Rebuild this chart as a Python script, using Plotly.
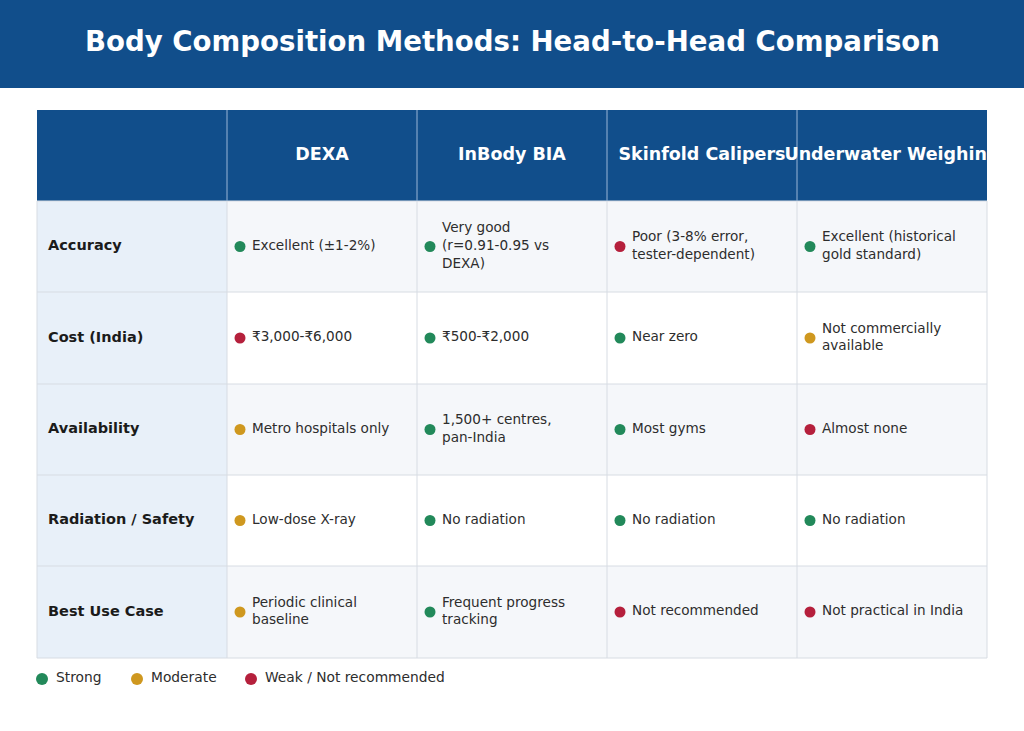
import plotly.graph_objects as go

# ---------------------------------------------------------------------------
# Datos de la tabla
# ---------------------------------------------------------------------------
title = "Body Composition Methods: Head-to-Head Comparison"
methods = ["DEXA", "InBody BIA", "Skinfold Calipers", "Underwater Weighing"]
criteria = ["Accuracy", "Cost (India)", "Availability", "Radiation / Safety", "Best Use Case"]

cell_text = [
    ["Excellent (±1-2%)", "Very good<br>(r=0.91-0.95 vs<br>DEXA)",
     "Poor (3-8% error,<br>tester-dependent)", "Excellent (historical<br>gold standard)"],
    ["₹3,000-₹6,000", "₹500-₹2,000", "Near zero", "Not commercially<br>available"],
    ["Metro hospitals only", "1,500+ centres,<br>pan-India", "Most gyms", "Almost none"],
    ["Low-dose X-ray", "No radiation", "No radiation", "No radiation"],
    ["Periodic clinical<br>baseline", "Frequent progress<br>tracking",
     "Not recommended", "Not practical in India"],
]
ratings = [
    ["strong", "strong", "weak", "strong"],
    ["weak", "strong", "strong", "moderate"],
    ["moderate", "strong", "strong", "weak"],
    ["moderate", "strong", "strong", "strong"],
    ["moderate", "strong", "weak", "weak"],
]
legend_keys = ["strong", "moderate", "weak"]
legend_labels = ["Strong", "Moderate", "Weak / Not recommended"]

# colores
NAVY = "#114e8b"
HEAD_LINE = "#9ab5d6"
LABEL_BG = "#e8f0f9"
ALT_BG = "#f5f7fa"
GRID = "#d7dce3"
TXT = "#2d2d2d"
LABEL_TXT = "#1b1b1b"
DOT = {"strong": "#22895a", "moderate": "#cf981f", "weak": "#b5203c"}
FONT = "DejaVu Sans"

W, H = 1024, 731
x_edges = [37, 227, 417, 607, 797, 987]
y_edges = [110, 201, 292, 384, 475, 566, 658]
X0, X1 = 36, 988  # zona de dibujo (recorta la cabecera como el original)

fig = go.Figure()
shapes = []

# banda del título (en coordenadas de papel)
shapes.append(dict(type="rect", xref="paper", yref="paper", x0=0, x1=1,
                   y0=1 - 88 / H, y1=1, fillcolor=NAVY, line_width=0, layer="below"))

# cabecera
shapes.append(dict(type="rect", x0=x_edges[0], x1=x_edges[-1], y0=y_edges[0], y1=y_edges[1],
                   fillcolor=NAVY, line_width=0, layer="below"))

# filas
for r in range(len(criteria)):
    y0, y1 = y_edges[r + 1], y_edges[r + 2]
    bg = ALT_BG if r % 2 == 0 else "white"
    shapes.append(dict(type="rect", x0=x_edges[1], x1=x_edges[-1], y0=y0, y1=y1,
                       fillcolor=bg, line_width=0, layer="below"))
    shapes.append(dict(type="rect", x0=x_edges[0], x1=x_edges[1], y0=y0, y1=y1,
                       fillcolor=LABEL_BG, line_width=0, layer="below"))

# líneas de la rejilla
for y in y_edges[1:]:
    shapes.append(dict(type="line", x0=x_edges[0], x1=x_edges[-1], y0=y, y1=y,
                       line=dict(color=GRID, width=1), layer="below"))
for x in x_edges:
    shapes.append(dict(type="line", x0=x, x1=x, y0=y_edges[1], y1=y_edges[-1],
                       line=dict(color=GRID, width=1), layer="below"))
for x in x_edges[1:-1]:
    shapes.append(dict(type="line", x0=x, x1=x, y0=y_edges[0], y1=y_edges[1],
                       line=dict(color=HEAD_LINE, width=1), layer="below"))

# textos de cabecera
head_y = (y_edges[0] + y_edges[1]) / 2
fig.add_trace(go.Scatter(
    x=[(x_edges[i + 1] + x_edges[i + 2]) / 2 for i in range(len(methods))],
    y=[head_y] * len(methods),
    text=[f"<b>{m}</b>" for m in methods],
    mode="text", textposition="middle center",
    textfont=dict(family=FONT, size=17.5, color="white"),
    cliponaxis=True, hoverinfo="skip",
))

# etiquetas de fila
row_mid = [(y_edges[r + 1] + y_edges[r + 2]) / 2 for r in range(len(criteria))]
fig.add_trace(go.Scatter(
    x=[x_edges[0] + 11] * len(criteria), y=row_mid,
    text=[f"<b>{c}</b>" for c in criteria],
    mode="text", textposition="middle right",
    textfont=dict(family=FONT, size=14.5, color=LABEL_TXT),
    hoverinfo="skip",
))

# celdas: puntos + texto
dot_x, dot_y, dot_c, tx, ty, tt = [], [], [], [], [], []
for r in range(len(criteria)):
    for c in range(len(methods)):
        left = x_edges[c + 1]
        dot_x.append(left + 13)
        dot_y.append(row_mid[r])
        dot_c.append(DOT[ratings[r][c]])
        tx.append(left + 25)
        ty.append(row_mid[r])
        tt.append(cell_text[r][c])

fig.add_trace(go.Scatter(x=dot_x, y=dot_y, mode="markers",
                         marker=dict(size=11, color=dot_c, line_width=0),
                         hoverinfo="skip"))
fig.add_trace(go.Scatter(x=tx, y=ty, text=tt, mode="text", textposition="middle right",
                         textfont=dict(family=FONT, size=13.6, color=TXT),
                         hoverinfo="skip"))

# leyenda
leg_x = [42, 137, 251]
leg_y = 679
fig.add_trace(go.Scatter(x=leg_x, y=[leg_y] * 3, mode="markers",
                         marker=dict(size=12, color=[DOT[k] for k in legend_keys], line_width=0),
                         hoverinfo="skip", cliponaxis=False))
fig.add_trace(go.Scatter(x=[x + 14 for x in leg_x], y=[leg_y] * 3, text=legend_labels,
                         mode="text", textposition="middle right",
                         textfont=dict(family=FONT, size=13.8, color=TXT),
                         hoverinfo="skip", cliponaxis=False))

fig.add_annotation(xref="paper", yref="paper", x=0.5, y=1 - 41 / H,
                   text=f"<b>{title}</b>", showarrow=False,
                   font=dict(family=FONT, size=27.6, color="white"),
                   xanchor="center", yanchor="middle")

fig.update_layout(
    width=W, height=H,
    margin=dict(l=0, r=0, t=0, b=0),
    paper_bgcolor="white", plot_bgcolor="rgba(0,0,0,0)",
    showlegend=False,
    shapes=shapes,
    xaxis=dict(range=[X0, X1], visible=False, fixedrange=True,
               domain=[X0 / W, X1 / W]),
    yaxis=dict(range=[H, 0], visible=False, fixedrange=True, domain=[0, 1]),
)

fig.write_html("out.html", config={"displayModeBar": False},
               post_script="document.body.style.margin='0';")
